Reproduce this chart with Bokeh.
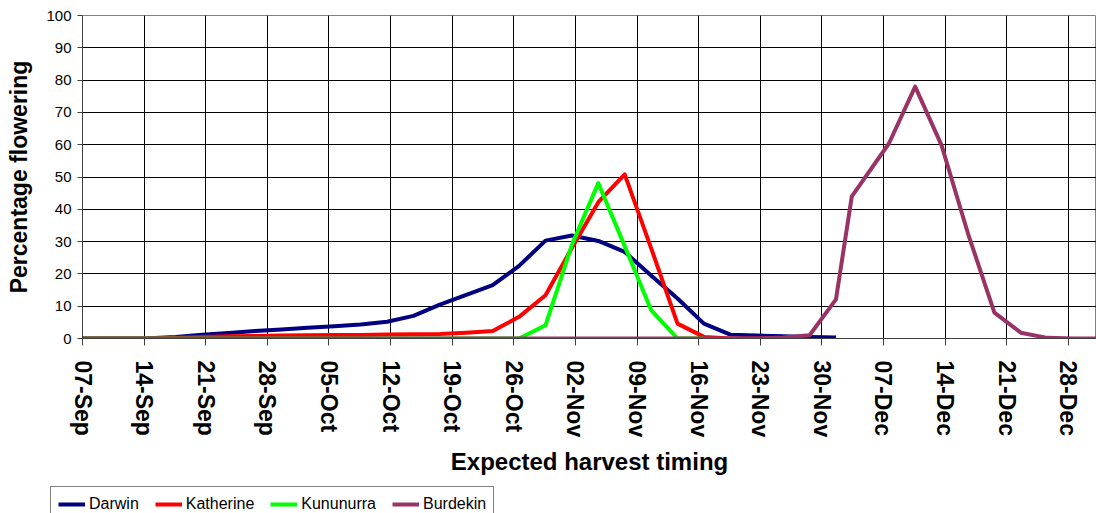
import numpy as np
from bokeh.plotting import figure
from bokeh.layouts import column, row
from bokeh.models import Range1d, FixedTicker, Legend, LegendItem
from bokeh.embed import file_html
from bokeh.resources import INLINE

# x positions: days after 07-Sep
tick_days = [0, 7, 14, 21, 28, 35, 42, 49, 56, 63, 70, 77, 84, 91, 98, 105, 112]
tick_labels = ["07-Sep", "14-Sep", "21-Sep", "28-Sep", "05-Oct", "12-Oct", "19-Oct",
               "26-Oct", "02-Nov", "09-Nov", "16-Nov", "23-Nov", "30-Nov", "07-Dec",
               "14-Dec", "21-Dec", "28-Dec"]
y_ticks = [0, 10, 20, 30, 40, 50, 60, 70, 80, 90, 100]

days = [0, 4.6, 7.6, 10.6, 13.6, 16.6, 19.6, 22.6, 25.6, 28.6, 31.6, 34.6, 37.6,
        40.6, 43.6, 46.6, 49.6, 52.6, 55.6, 58.6, 61.6, 64.6, 67.6, 70.6, 73.6,
        76.6, 79.6, 82.6, 85.6, 87.4, 91.6, 94.6, 97.6, 100.6, 103.6, 106.6,
        109.6, 112.6, 115.6]

darwin = [0, 0, 0.1, 0.5, 1.2, 1.7, 2.3, 2.8, 3.3, 3.8, 4.3, 5.2, 7.0,
          10.5, 13.5, 16.5, 22.5, 30.3, 31.9, 30.2, 26.8, 19.5, 12.4, 4.6, 1.2,
          0.9, 0.7, 0.5, 0.3, None, None, None, None, None, None, None,
          None, None, None]
katherine = [0, 0, 0, 0.2, 0.5, 0.7, 0.8, 0.9, 1.0, 1.1, 1.1, 1.2, 1.3,
             1.4, 1.8, 2.3, 6.7, 13.4, 28.0, 42.2, 50.8, 28.0, 4.6, 0.5, 0,
             0, 0, None, None, None, None, None, None, None, None, None,
             None, None, None]
kununurra = [0, 0, 0, 0, 0, 0, 0, 0, 0, 0, 0, 0, 0,
             0, 0, 0, 0, 4.1, 29.0, 48.1, 28.6, 8.8, 0, 0, None,
             None, None, None, None, None, None, None, None, None, None, None,
             None, None, None]
burdekin = [0, 0, 0, 0, 0, 0, 0, 0, 0, 0, 0, 0, 0,
            0, 0, 0, 0, 0, 0, 0, 0, 0, 0, 0, 0,
            0, 0.3, 1.0, 12.1, 44.0, 60.3, 78.0, 59.8, 32.5, 8.0, 1.8,
            0.2, 0, 0]

series_names = ["Darwin", "Katherine", "Kununurra", "Burdekin"]
series_colors = ["#000080", "#FF0000", "#00FF00", "#993366"]
series_values = [darwin, katherine, kununurra, burdekin]

FONT = "Liberation Sans"

p = figure(width=1096, height=486, output_backend="svg", toolbar_location=None,
           x_range=Range1d(0, 115.2), y_range=Range1d(0, 100),
           min_border_left=82, min_border_right=0, min_border_top=15,
           min_border_bottom=148, background_fill_color="white",
           border_fill_color="white")
p.outline_line_color = "#808080"
p.outline_line_width = 1

series_arrays = []
for name, color, vals in zip(series_names, series_colors, series_values):
    y = np.array([np.nan if v is None else v for v in vals], dtype=float)
    series_arrays.append(y)
    p.line(np.array(days, dtype=float), y, line_color=color, line_width=4,
           line_join="round")

# axes
xa = p.xaxis[0]
xa.ticker = FixedTicker(ticks=tick_days)
xa.major_label_overrides = {d: l for d, l in zip(tick_days, tick_labels)}
xa.major_label_orientation = "vertical"
xa.major_label_text_font = FONT
xa.major_label_text_font_style = "bold"
xa.major_label_text_font_size = "23px"
xa.major_label_text_color = "black"
xa.major_label_standoff = 15
xa.major_tick_out = 7
xa.major_tick_in = 0
xa.minor_tick_line_color = None
xa.axis_line_color = "#404040"
xa.major_tick_line_color = "#404040"
xa.axis_label = "Expected harvest timing"
xa.axis_label_text_font = FONT
xa.axis_label_text_font_style = "bold"
xa.axis_label_text_font_size = "24px"
xa.axis_label_text_color = "black"
xa.axis_label_standoff = 8

ya = p.yaxis[0]
ya.ticker = FixedTicker(ticks=y_ticks)
ya.major_label_text_font = FONT
ya.major_label_text_font_size = "15px"
ya.major_label_text_color = "black"
ya.major_label_standoff = 6
ya.major_tick_out = 5
ya.major_tick_in = 0
ya.minor_tick_line_color = None
ya.axis_line_color = "#404040"
ya.major_tick_line_color = "#404040"
ya.axis_label = "Percentage flowering"
ya.axis_label_text_font = FONT
ya.axis_label_text_font_style = "bold"
ya.axis_label_text_font_size = "23px"
ya.axis_label_text_color = "black"
ya.axis_label_standoff = 11

p.xgrid.grid_line_color = "black"
p.ygrid.grid_line_color = "black"
p.xgrid.grid_line_width = 1
p.ygrid.grid_line_width = 1

# legend strip below the chart (series drawn out of view, only the legend shows)
pl = figure(width=1096, height=27, output_backend="svg", toolbar_location=None,
            x_range=Range1d(-30, -20), y_range=Range1d(-30, -20),
            x_axis_location=None, y_axis_location=None,
            min_border_left=0, min_border_right=0, min_border_top=0,
            min_border_bottom=0, background_fill_color="white",
            border_fill_color="white")
pl.outline_line_color = None
pl.xgrid.visible = False
pl.ygrid.visible = False
items = []
for name, color, y in zip(series_names, series_colors, series_arrays):
    r = pl.line(np.array(days, dtype=float), y, line_color=color, line_width=4)
    items.append(LegendItem(label=name, renderers=[r]))

legend = Legend(items=items, orientation="horizontal", location=(50, -9),
                padding=7, spacing=16, glyph_width=27, glyph_height=20,
                label_standoff=4, label_height=20, margin=0,
                label_text_font=FONT, label_text_font_size="16px",
                label_text_color="black",
                border_line_color="black", border_line_width=1,
                background_fill_color="white", background_fill_alpha=1)
pl.add_layout(legend)

open("out.html", "w").write(file_html(column(p, row(pl), spacing=0), INLINE))
